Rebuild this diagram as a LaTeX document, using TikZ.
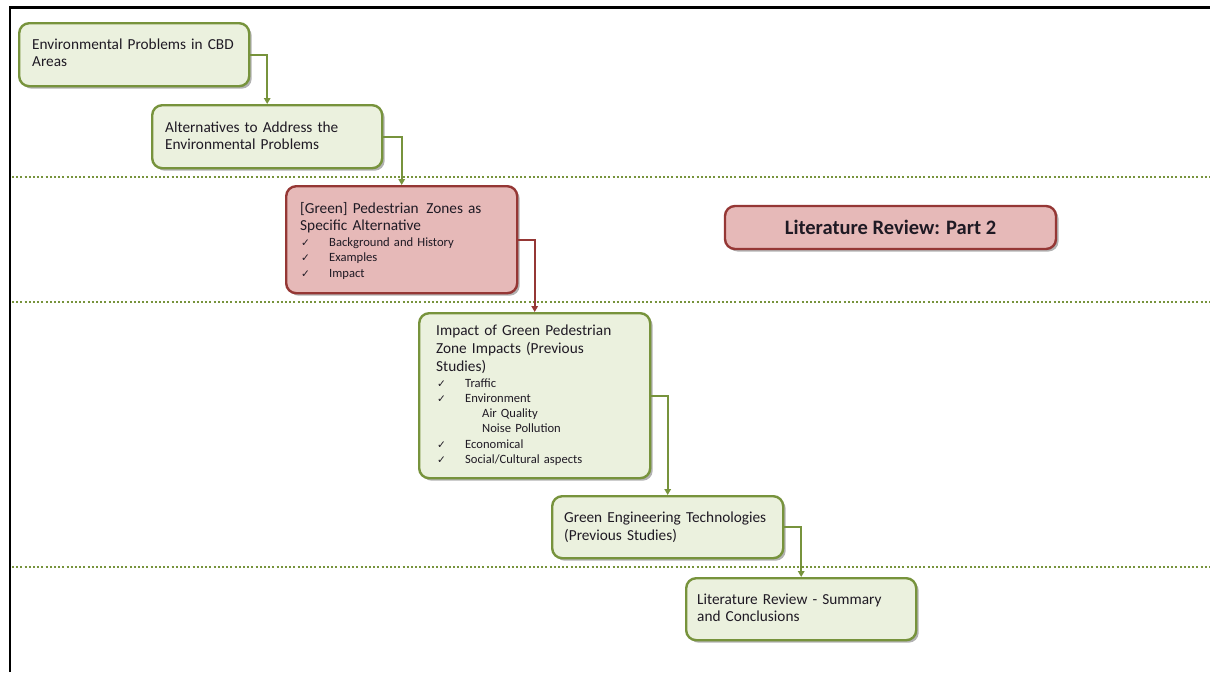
\documentclass[tikz,border=0pt]{standalone}
\usepackage{fontspec}
\setmainfont{Carlito}
\newfontfamily\djfont{DejaVu Sans}
\usetikzlibrary{arrows.meta,shadows}
\definecolor{gstroke}{HTML}{77933C}
\definecolor{gfill}{HTML}{EBF1DE}
\definecolor{rstroke}{HTML}{953735}
\definecolor{rfill}{HTML}{E6B9B8}
\definecolor{txtc}{HTML}{1F1A24}
\newcommand\ckm{\makebox[28pt][l]{\djfont\fontsize{10.5}{10.5}\selectfont ✓}}
\tikzset{
  boxbase/.style={rectangle, rounded corners=10pt, line width=2.4pt, anchor=north west, inner sep=0pt,
    drop shadow={shadow xshift=2.5pt, shadow yshift=-2.5pt, opacity=0.3, fill=black}},
  gbox/.style={boxbase, draw=gstroke, fill=gfill},
  rbox/.style={boxbase, draw=rstroke, fill=rfill},
  ttl/.style={font=\fontsize{15.3}{17.5}\selectfont, text width=260pt, align=left, inner sep=0pt, anchor=base west, text=txtc},
  lst/.style={font=\fontsize{12.6}{15.2}\selectfont, text width=260pt, align=left, inner sep=0pt, anchor=base west, text=txtc},
  gline/.style={draw=gstroke, line width=1.8pt, -{Triangle[length=6pt,width=6.5pt]}},
  rline/.style={draw=rstroke, line width=1.8pt, -{Triangle[length=6pt,width=6.5pt]}},
  sep/.style={draw=gstroke, line width=2.2pt, dash pattern=on 2pt off 2.2pt},
  frame/.style={draw=black, line width=2.4pt}
}
\begin{document}
\begin{tikzpicture}[x=1pt,y=-1pt]
\useasboundingbox (0,0) rectangle (1210,672);
% frame
\coordinate (fa) at (10,672);
\coordinate (fb) at (10,7.5);
\coordinate (fc) at (1210,7.5);
\draw[frame] (fa) -- (fb) -- (fc);
% separators
\coordinate (s1a) at (12,177); \coordinate (s1b) at (1210,177);
\coordinate (s2a) at (12,302); \coordinate (s2b) at (1210,302);
\coordinate (s3a) at (12,567); \coordinate (s3b) at (1210,567);
\draw[sep] (s1a) -- (s1b);
\draw[sep] (s2a) -- (s2b);
\draw[sep] (s3a) -- (s3b);
% boxes
\node[gbox, minimum width=230pt, minimum height=63pt] (b1) at (18,22) {};
\node[gbox, minimum width=230pt, minimum height=63pt] (b2) at (151,104) {};
\node[rbox, minimum width=231pt, minimum height=107pt] (b3) at (285,185) {};
\node[gbox, minimum width=231pt, minimum height=165pt] (b4) at (418,312) {};
\node[gbox, minimum width=231pt, minimum height=62pt] (b5) at (551,495) {};
\node[gbox, minimum width=230pt, minimum height=62pt] (b6) at (685,577) {};
\node[rbox, minimum width=331pt, minimum height=43pt, anchor=center, text=txtc,
      font=\bfseries\fontsize{20.5}{22}\selectfont] (b7) at (890.5,227.5) {Literature Review: Part 2};
% texts
\node[ttl] (t1) at (32,49.3) {Environmental Problems in CBD\\Areas};
\node[ttl] (t2) at (165,132.3) {Alternatives to Address the\\Environmental Problems};
\node[ttl] (t3) at (300,213.3) {[Green] Pedestrian\, Zones as\\Specific Alternative};
\node[lst] (l3) at (301,246.7) {\ckm Background and History\\\ckm Examples\\\ckm Impact};
\node[ttl, font=\fontsize{15.3}{17.7}\selectfont] (t4) at (436,335.7) {Impact of Green Pedestrian\\Zone Impacts (Previous\\Studies)};
\node[lst] (l4) at (437,387.3) {\ckm Traffic\\\ckm Environment\\\hspace*{45pt}Air Quality\\\hspace*{45pt}Noise Pollution\\\ckm Economical\\\ckm Social/Cultural aspects};
\node[ttl] (t5) at (564,522.7) {Green Engineering Technologies\\(Previous Studies)};
\node[ttl] (t6) at (697,604) {Literature Review - Summary\\and Conclusions};
% connectors
\draw[gline] (b1.east) -| (b2.north);
\draw[gline] (b2.east) -| (b3.north);
\draw[rline] (b3.east) -| (b4.north);
\draw[gline] (b4.east) -| (b5.north);
\draw[gline] (b5.east) -| (b6.north);
\end{tikzpicture}
\end{document}
